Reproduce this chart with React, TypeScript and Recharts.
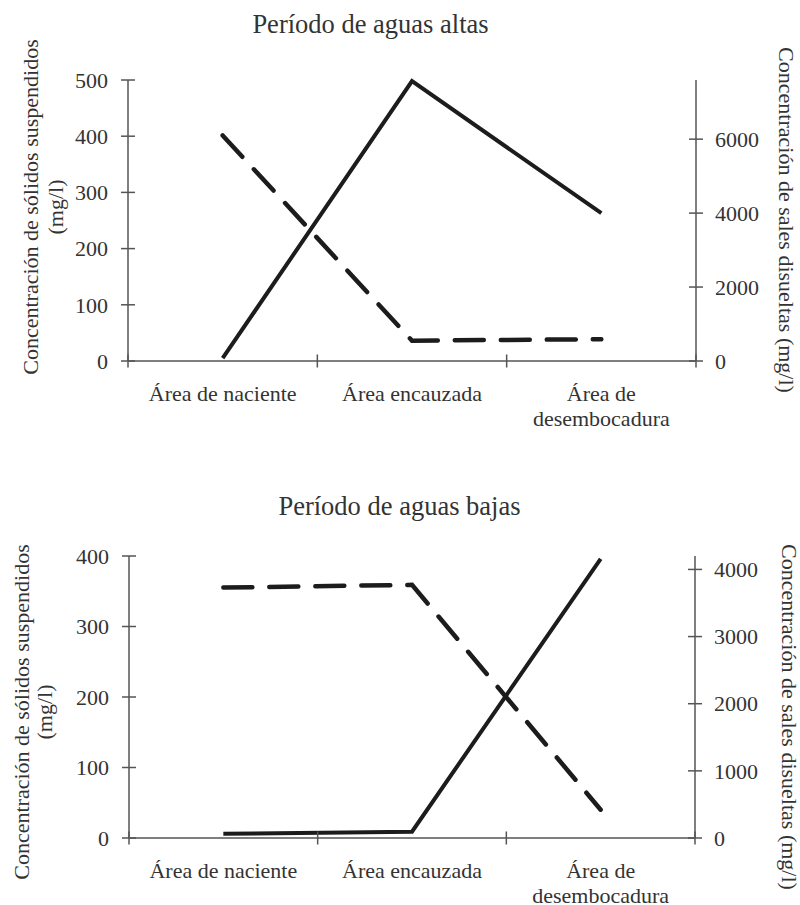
import React from "react";
import { LineChart, Line, XAxis, YAxis } from "recharts";

const categoryLines: string[][] = [
  ["Área de naciente"],
  ["Área encauzada"],
  ["Área de", "desembocadura"],
];

const topSolids = [5, 498, 263];
const topSalts = [6100, 550, 590];
const bottomSolids = [6, 9, 396];
const bottomSalts = [3730, 3770, 421];

const topLeftTicks = [0, 100, 200, 300, 400, 500];
const topRightTicks = [0, 2000, 4000, 6000];
const bottomLeftTicks = [0, 100, 200, 300, 400];
const bottomRightTicks = [0, 1000, 2000, 3000, 4000];
const xTicks = [0, 0.5, 1, 1.5, 2, 2.5, 3];

const FONT = '"Liberation Serif", "Times New Roman", serif';
const TEXT = "#333";
const AXIS = "#555";
const LINE = "#1c1c1c";

const buildData = (solids: number[], salts: number[]) =>
  solids.map((s, i) => ({ x: i + 0.5, solidos: s, sales: salts[i] }));

const LeftTick = (props: any) => {
  const { x, y, payload } = props;
  return (
    <g>
      <line x1={x - 7} x2={x + 7} y1={y} y2={y} stroke={AXIS} strokeWidth={1.5} />
      <text x={x - 20} y={y} dy="0.35em" textAnchor="end" fontFamily={FONT} fontSize={22} fill={TEXT}>
        {payload.value}
      </text>
    </g>
  );
};

const RightTick = (props: any) => {
  const { x, y, payload } = props;
  return (
    <g>
      <line x1={x - 7} x2={x + 7} y1={y} y2={y} stroke={AXIS} strokeWidth={1.5} />
      <text x={x + 19} y={y} dy="0.35em" textAnchor="start" fontFamily={FONT} fontSize={22} fill={TEXT}>
        {payload.value}
      </text>
    </g>
  );
};

const BottomTick = (props: any) => {
  const { x, y, payload } = props;
  const v = payload.value as number;
  if (Number.isInteger(v)) {
    return <line x1={x} x2={x} y1={y - 6.5} y2={y + 6.5} stroke={AXIS} strokeWidth={1.5} />;
  }
  const lines = categoryLines[Math.floor(v)] || [];
  return (
    <text x={x} y={y + 40} textAnchor="middle" fontFamily={FONT} fontSize={22} fill={TEXT}>
      {lines.map((l, i) => (
        <tspan key={i} x={x} dy={i === 0 ? 0 : 25}>
          {l}
        </tspan>
      ))}
    </text>
  );
};

type PanelProps = {
  top: number;
  height: number;
  marginTop: number;
  xAxisHeight: number;
  leftWidth: number;
  rightWidth: number;
  data: any[];
  leftMax: number;
  rightMax: number;
  leftTicks: number[];
  rightTicks: number[];
};

const Panel = (p: PanelProps) => (
  <div style={{ position: "absolute", left: 0, top: p.top, width: 800, height: p.height }}>
    <LineChart
      width={800}
      height={p.height}
      data={p.data}
      margin={{ top: p.marginTop, right: 0, bottom: 0, left: 0 }}
    >
      <XAxis
        dataKey="x"
        type="number"
        domain={[0, 3]}
        ticks={xTicks}
        interval={0}
        height={p.xAxisHeight}
        tickSize={0}
        tickMargin={0}
        tick={<BottomTick />}
        axisLine={{ stroke: AXIS, strokeWidth: 1.5 }}
        tickLine={false}
      />
      <YAxis
        yAxisId="left"
        orientation="left"
        width={p.leftWidth}
        domain={[0, p.leftMax]}
        ticks={p.leftTicks}
        interval={0}
        tickSize={0}
        tickMargin={0}
        tick={<LeftTick />}
        axisLine={{ stroke: AXIS, strokeWidth: 1.5 }}
        tickLine={false}
      />
      <YAxis
        yAxisId="right"
        orientation="right"
        width={p.rightWidth}
        domain={[0, p.rightMax]}
        ticks={p.rightTicks}
        interval={0}
        tickSize={0}
        tickMargin={0}
        tick={<RightTick />}
        axisLine={{ stroke: AXIS, strokeWidth: 1.5 }}
        tickLine={false}
      />
      <Line
        yAxisId="left"
        dataKey="solidos"
        stroke={LINE}
        strokeWidth={4}
        dot={false}
        activeDot={false}
        strokeLinejoin="miter"
        isAnimationActive={false}
      />
      <Line
        yAxisId="right"
        dataKey="sales"
        stroke={LINE}
        strokeWidth={4.5}
        strokeDasharray="29 17"
        strokeLinecap="round"
        dot={false}
        activeDot={false}
        isAnimationActive={false}
      />
    </LineChart>
  </div>
);

const Overlay = ({
  top,
  title,
  titleX,
  titleY,
  l1x,
  l2x,
  ly,
  rx,
  ry,
}: {
  top: number;
  title: string;
  titleX: number;
  titleY: number;
  l1x: number;
  l2x: number;
  ly: number;
  rx: number;
  ry: number;
}) => (
  <svg
    width={800}
    height={450}
    style={{ position: "absolute", left: 0, top, pointerEvents: "none", overflow: "visible" }}
  >
    <text x={titleX} y={titleY} textAnchor="middle" fontFamily={FONT} fontSize={26.5} fill={TEXT}>
      {title}
    </text>
    <text
      x={l1x}
      y={ly}
      dy="0.35em"
      textAnchor="middle"
      fontFamily={FONT}
      fontSize={22}
      fill={TEXT}
      transform={`rotate(-90, ${l1x}, ${ly})`}
    >
      Concentración de sólidos suspendidos
    </text>
    <text
      x={l2x}
      y={ly}
      dy="0.35em"
      textAnchor="middle"
      fontFamily={FONT}
      fontSize={22}
      fill={TEXT}
      transform={`rotate(-90, ${l2x}, ${ly})`}
    >
      (mg/l)
    </text>
    <text
      x={rx}
      y={ry}
      dy="0.35em"
      textAnchor="middle"
      fontFamily={FONT}
      fontSize={22}
      fill={TEXT}
      transform={`rotate(90, ${rx}, ${ry})`}
    >
      Concentración de sales disueltas (mg/l)
    </text>
  </svg>
);

export default function App() {
  return (
    <div style={{ position: "absolute", left: 0, top: 0, width: 800, height: 905, background: "#fff" }}>
      <Panel
        top={0}
        height={450}
        marginTop={80}
        xAxisHeight={89}
        leftWidth={128}
        rightWidth={104}
        data={buildData(topSolids, topSalts)}
        leftMax={500}
        rightMax={7600}
        leftTicks={topLeftTicks}
        rightTicks={topRightTicks}
      />
      <Panel
        top={480}
        height={425}
        marginTop={76}
        xAxisHeight={67}
        leftWidth={129}
        rightWidth={105}
        data={buildData(bottomSolids, bottomSalts)}
        leftMax={400}
        rightMax={4200}
        leftTicks={bottomLeftTicks}
        rightTicks={bottomRightTicks}
      />
      <Overlay top={0} title="Período de aguas altas" titleX={370.5} titleY={33} l1x={30} l2x={55} ly={207} rx={787} ry={220} />
      <Overlay top={480} title="Período de aguas bajas" titleX={399.5} titleY={35} l1x={21} l2x={44} ly={232} rx={790} ry={237} />
    </div>
  );
}
